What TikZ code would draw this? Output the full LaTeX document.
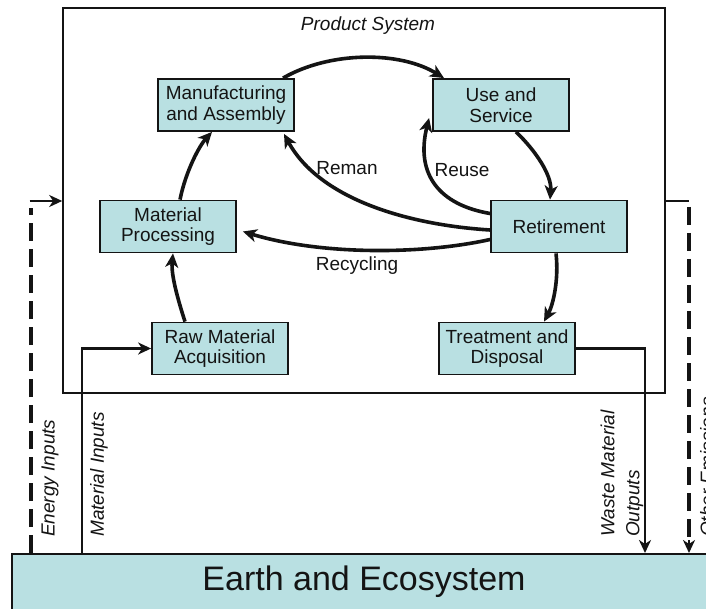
\documentclass[tikz,border=0pt]{standalone}
\usepackage{fontspec}
\setmainfont{Liberation Sans}
\usetikzlibrary{arrows.meta}
\definecolor{boxfill}{RGB}{185,224,226}
\definecolor{ink}{RGB}{20,20,20}

\begin{document}
\begin{tikzpicture}[x=1pt,y=-1pt,
  stage/.style={draw=ink, line width=1.8pt, fill=boxfill, minimum width=136pt,
    minimum height=52pt, inner sep=0pt, align=center, text=ink,
    font=\fontsize{19}{20.5}\selectfont},
  flow/.style={draw=ink, line width=3.6pt, -{Stealth[length=14pt,width=13pt,inset=4pt]}},
  feed/.style={draw=ink, line width=2.8pt, -{Stealth[length=13pt,width=12pt,inset=4pt]}},
  dashflow/.style={draw=ink, line width=3.2pt, dash pattern=on 18pt off 8pt},
  tag/.style={text=ink, font=\fontsize{19}{20}\selectfont},
  sidetag/.style={rotate=90, anchor=west, align=left, inner sep=0pt, text=ink,
    font=\fontsize{19}{25}\selectfont\itshape}]

\useasboundingbox (0,0) rectangle (706,609);
\fill[white] (0,0) rectangle (706,609);

\begin{scope}
\clip (0,0) rectangle (706,609);

% product system frame
\node[draw=ink, line width=1.6pt, minimum width=602pt, minimum height=385pt,
  inner sep=0pt] (sys) at (364,200.5) {};
\node[text=ink, font=\fontsize{19}{20}\selectfont\itshape] (title) at (368,26) {Product System};

% earth
\node[draw=ink, line width=1.6pt, fill=boxfill, minimum width=709pt,
  minimum height=58pt, inner sep=0pt, anchor=north west] (earth) at (11,553) {};
\node[text=ink, font=\fontsize{34}{38}\selectfont] (earthtxt) at (364,582) {Earth and Ecosystem};

% life cycle stages
\node[stage] (manu)  at (226,105)   {Manufacturing\\and Assembly};
\node[stage] (use)   at (501,105)   {Use and\\Service};
\node[stage] (proc)  at (168,226.5) {Material\\Processing};
\node[stage] (ret)   at (559,226.5) {Retirement};
\node[stage] (raw)   at (220,348.5) {Raw Material\\Acquisition};
\node[stage] (treat) at (507,348.5) {Treatment and\\Disposal};

% main cycle
\draw[flow] ([xshift=57pt]manu.north) .. controls (330,51) and (400,51) .. ([xshift=-57pt]use.north);
\draw[flow] ([xshift=15pt]use.south) .. controls (535,150) and (552,175) .. ([xshift=-9pt]ret.north);
\draw[flow] ([xshift=-3pt]ret.south) .. controls (559,280) and (553,305) .. ([xshift=37pt]treat.north);
\draw[flow] ([xshift=-35pt]raw.north) .. controls (178,300) and (171,275) .. ([xshift=5pt]proc.south);
\draw[flow] ([xshift=12pt]proc.north) .. controls (186,170) and (200,145) .. ([xshift=-14pt]manu.south);

% loops back from retirement
\draw[flow] ([yshift=13pt]ret.west) .. controls (440,205) and (415,175) .. ([xshift=-3pt,yshift=-13pt]use.west);
\draw[flow] ([yshift=-3.5pt]ret.west) .. controls (410,225) and (320,200) .. ([xshift=58pt,yshift=-2pt]manu.south);
\draw[flow] ([yshift=-13pt]ret.west) .. controls (420,255) and (320,255) .. ([xshift=6pt,yshift=-5pt]proc.east);

\node[tag] (reman) at (347,168) {Reman};
\node[tag] (reuse) at (462,170) {Reuse};
\node[tag] (recyc) at (357,266) {Recycling};

% exchanges with the earth
\coordinate (matin) at (82,553);
\draw[feed] (matin) |- (raw.west);

\coordinate (waste) at (645,553);
\draw[feed] (treat.east) -| (waste);

\coordinate (en0) at (31,553);
\coordinate (en1) at (31,201);
\draw[dashflow] (en0) -- ([yshift=-7pt]en1);
\draw[feed] ([xshift=-1.5pt]en1) -- (en1 -| sys.west);

\coordinate (em1) at (689,201);
\coordinate (em2) at (689,553);
\draw[draw=ink, line width=2.2pt] (em1 -| sys.east) -- (em1);
\draw[dashflow] ([yshift=-6pt]em1) -- ([yshift=12pt]em2);
\draw[feed] ([yshift=13pt]em2) -- (em2);

\node[sidetag] (entag)  at (50,537)  {Energy Inputs};
\node[sidetag] (mattag) at (99,537)  {Material Inputs};
\node[sidetag] (wastag) at (622,537) {Waste Material\\Outputs};
\node[sidetag] (emtag)  at (707,537) {Other Emissions};
\end{scope}
\end{tikzpicture}
\end{document}
